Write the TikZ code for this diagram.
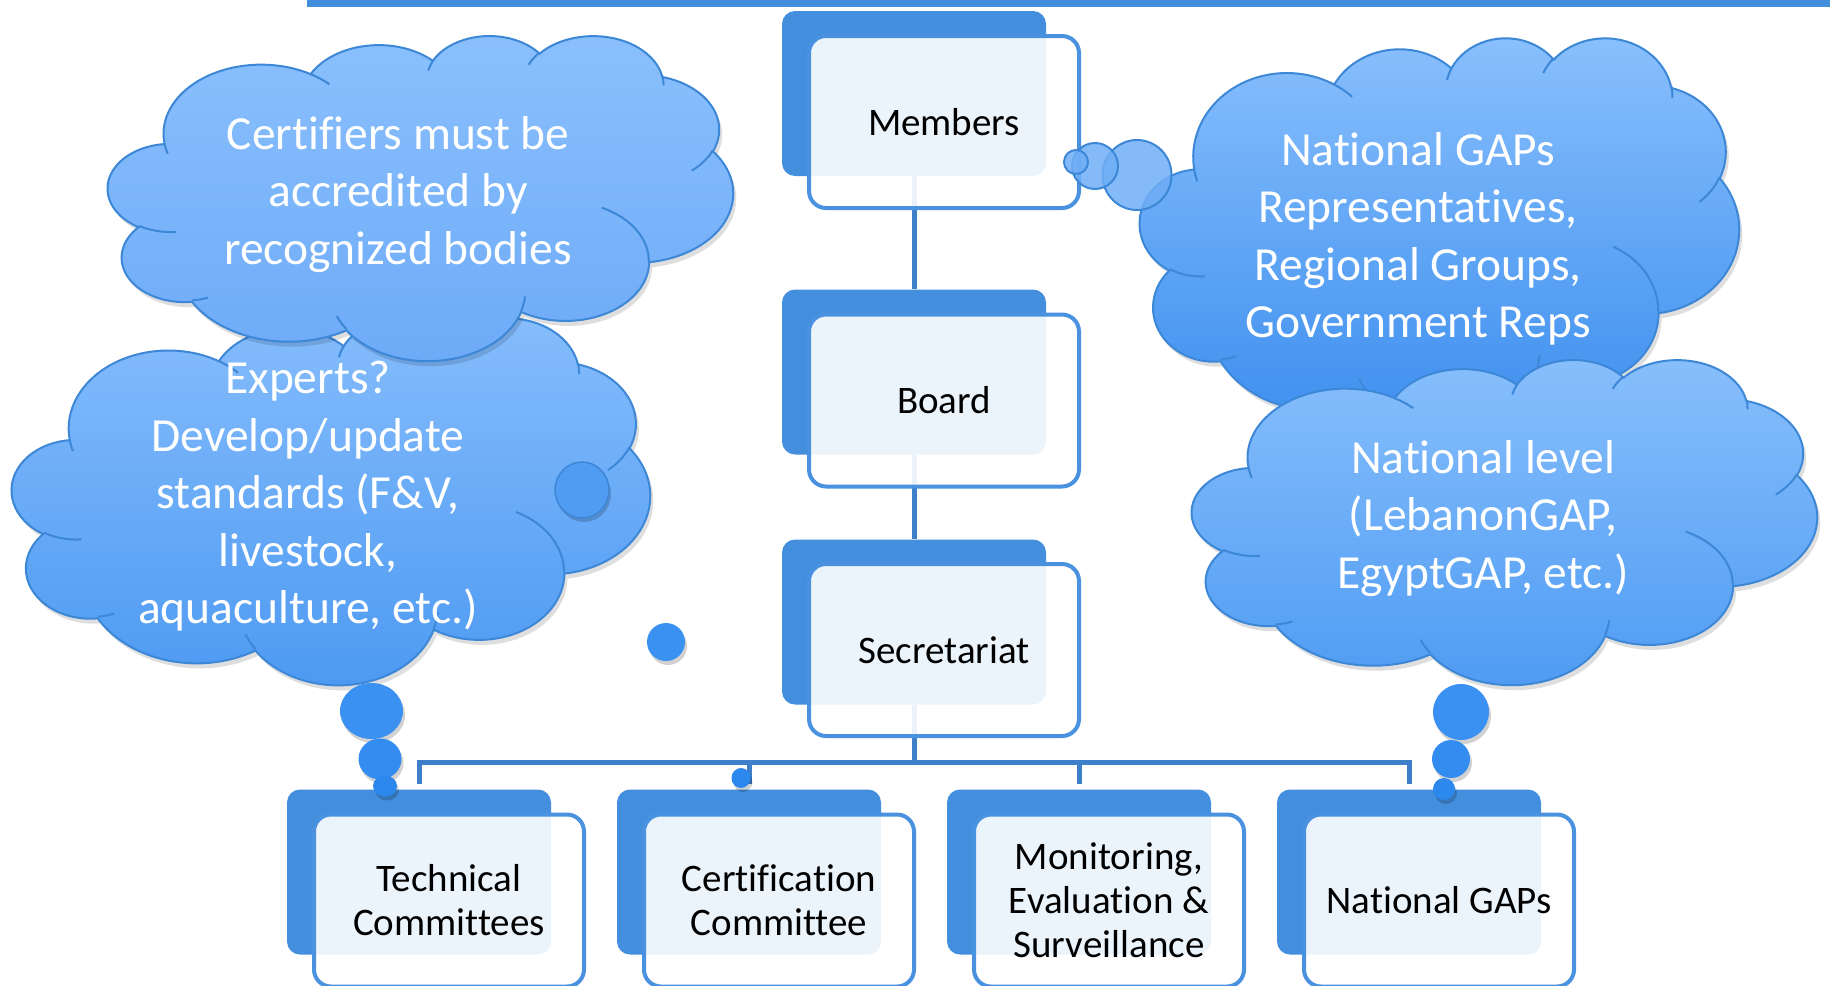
\documentclass[tikz,border=0pt]{standalone}
\usepackage{fontspec}
\setmainfont[Ligatures=NoCommon]{Carlito}
\definecolor{barblue}{HTML}{438EDB}
\definecolor{backblue}{HTML}{438FDD}
\definecolor{frontline}{HTML}{4A91E0}
\definecolor{connblue}{HTML}{3D80C9}
\definecolor{cloudline}{HTML}{3D87D7}
\definecolor{cAtop}{HTML}{8AC0FD}
\definecolor{cAbot}{HTML}{6DAAF7}
\definecolor{cBtop}{HTML}{86BDFC}
\definecolor{cBbot}{HTML}{4C99F2}
\definecolor{cCtop}{HTML}{8AC0FD}
\definecolor{cCbot}{HTML}{3A8DEE}
\definecolor{cDtop}{HTML}{88BFFC}
\definecolor{cDbot}{HTML}{4E9BF3}
\definecolor{tailA}{HTML}{3B91F1}
\definecolor{tailB}{HTML}{338CEF}
\definecolor{tailC}{HTML}{2D88EE}
\definecolor{bubblelight}{HTML}{6FAEF6}
\definecolor{innerbubble}{HTML}{4F9CF2}
\pgfdeclarelayer{bg}
\pgfsetlayers{bg,main}
\newcommand\mkarc[5]{%
  \pgfmathsetmacro\mkts{atan2((#2)*sin(#4),(#3)*cos(#4))}%
  \pgfmathsetmacro\mkte{atan2((#2)*sin((#4)+(#5)),(#3)*cos((#4)+(#5)))}%
  \pgfmathsetmacro\mkd{(\mkte)-(\mkts)}%
  \pgfmathsetmacro\mkd{(\mkd)+360*round(((#5)-(\mkd))/360)}%
  \expandafter\xdef\csname cloudarc#1\endcsname{ arc[start angle=\mkts, delta angle=\mkd, x radius=#2, y radius=#3] }%
}
\mkarc{1}{67.53}{91.90}{-190.48748}{123.78053}
\mkarc{2}{53.33}{72.67}{-144.10238}{89.94523}
\mkarc{3}{43.65}{59.45}{-145.80792}{99.72302}
\mkarc{4}{48.57}{65.95}{-130.98607}{117.24173}
\mkarc{5}{53.33}{72.73}{-78.70888}{109.02692}
\mkarc{6}{67.75}{92.20}{-46.26725}{130.26900}
\mkarc{7}{57.85}{78.67}{0.62502}{114.03333}
\mkarc{8}{67.52}{92.15}{22.45160}{115.17255}
\mkarc{9}{77.20}{105.43}{66.24263}{75.71102}
\mkarc{10}{43.60}{59.18}{-274.94208}{146.73557}
\mkarc{11}{43.45}{59.45}{-246.82850}{152.51885}
\mkarc{a}{43.45}{59.45}{86.74200}{26.42950}
\mkarc{b}{43.60}{59.18}{73.61047}{11.44747}
\mkarc{c}{67.52}{92.15}{137.62415}{14.08110}
\mkarc{d}{67.52}{92.15}{6.45327}{15.99835}
\mkarc{e}{57.85}{78.67}{-70.29235}{70.91737}
\mkarc{f}{53.33}{72.73}{30.31803}{27.75150}
\mkarc{g}{48.57}{65.95}{-13.74433}{14.85890}
\mkarc{h}{48.57}{65.95}{-149.18145}{18.19537}
\mkarc{i}{43.65}{59.45}{-163.49427}{17.68635}
\mkarc{j}{67.53}{91.90}{-66.70695}{12.31935}
\mkarc{k}{67.53}{91.90}{157.65435}{11.85817}
\xdef\cloudouter{(39.00,143.70) \csname cloudarc1\endcsname \csname cloudarc2\endcsname \csname cloudarc3\endcsname \csname cloudarc4\endcsname \csname cloudarc5\endcsname \csname cloudarc6\endcsname \csname cloudarc7\endcsname \csname cloudarc8\endcsname \csname cloudarc9\endcsname \csname cloudarc10\endcsname \csname cloudarc11\endcsname -- cycle}
\xdef\cloudinner{(46.93,261.77) \csname cloudarca\endcsname (69.28,348.99) \csname cloudarcb\endcsname (164.78,390.90) \csname cloudarcc\endcsname (288.27,347.51) \csname cloudarcd\endcsname (341.29,229.54) \csname cloudarce\endcsname (417.98,153.54) \csname cloudarcf\endcsname (383.24,54.26) \csname cloudarcg\endcsname (290.78,39.52) \csname cloudarch\endcsname (221.41,47.20) \csname cloudarci\endcsname (140.00,51.92) \csname cloudarcj\endcsname (41.27,157.89) \csname cloudarck\endcsname}
\newcommand\drawcloud[6]{%
  \pgfmathsetmacro\cwx{#3/432}\pgfmathsetmacro\cwy{#4/432}%
  \begin{scope}[shift={(#1,#2)}, x=\cwx pt, y=-\cwy pt]
    \fill[black, opacity=0.13, shift={(3pt,-5pt)}] \cloudouter;
    \path[top color=#5, bottom color=#6, draw=cloudline, line width=2pt] \cloudouter;
    \draw[cloudline, line width=2pt] \cloudinner;
  \end{scope}}
\newcommand\boxfont{\fontsize{39}{44}\selectfont}
\newcommand\cloudfont{\fontsize{47.5}{57.5}\selectfont}
\tikzset{
  backbox/.style={fill=backblue, rounded corners=13pt, minimum width=264pt, minimum height=165pt, inner sep=0pt},
  frontbox/.style={draw=frontline, line width=4pt, fill=white, fill opacity=0.9, text opacity=1, rounded corners=17pt, minimum width=270pt, minimum height=172pt, align=center, font=\boxfont, inner sep=0pt, text=black},
  conn/.style={draw=connblue, line width=5pt},
  cloudtext/.style={text=white, font=\cloudfont, align=center, inner sep=0pt},
  bshadow/.style={fill=black, opacity=0.18, shift={(2pt,-4pt)}},
  lightbubble/.style={fill=bubblelight, fill opacity=0.85, draw=cloudline, line width=2pt},
}
\begin{document}
\begin{tikzpicture}[x=1pt, y=-1pt]
\useasboundingbox (0,0) rectangle (1830,985);
% boxes
\node[backbox] (memB) at (914,93.5) {};
\node[frontbox] (mem) at (944,122) {Members};
\node[backbox] (boardB) at (914,372) {};
\node[frontbox] (board) at (944,400.5) {Board};
\node[backbox] (secB) at (914,622) {};
\node[frontbox] (sec) at (944,650) {Secretariat};
\node[backbox] (tcB) at (419,872) {};
\node[frontbox] (tc) at (449,900.5) {Technical\\Committees};
\node[backbox] (ccB) at (749,872) {};
\node[frontbox] (cc) at (779,900.5) {Certification\\Committee};
\node[backbox] (mesB) at (1079,872) {};
\node[frontbox] (mes) at (1109,900.5) {Monitoring,\\Evaluation \&\\Surveillance};
\node[backbox] (ngB) at (1409,872) {};
\node[frontbox] (ng) at (1439,900.5) {National GAPs};
\coordinate (bus) at (914,762);
\begin{pgfonlayer}{bg}
  \fill[barblue] (307,0) rectangle (1830,7);
  \draw[conn] (memB.south) -- (boardB.north);
  \draw[conn] (boardB.south) -- (secB.north);
  \draw[conn] (secB.south) -- (bus);
  \draw[conn] ([yshift=5pt]tcB.north) |- (bus) -| ([yshift=5pt]ngB.north);
  \draw[conn] ([yshift=5pt]ccB.north) -- (ccB.north |- bus);
  \draw[conn] ([yshift=5pt]mesB.north) -- (mesB.north |- bus);
\end{pgfonlayer}
% left clouds
\drawcloud{12}{317}{638}{367}{cBtop}{cBbot}
\node[cloudtext] (t2) at (308,496.5) {Experts?\\Develop/update\\standards (F\&V,\\livestock,\\aquaculture, etc.)};
\drawcloud{108}{35}{625}{325}{cAtop}{cAbot}
\node[cloudtext] (t1) at (398,194.5) {Certifiers must be\\accredited by\\recognized bodies};
% right clouds
\drawcloud{1140}{37}{599}{395}{cCtop}{cCbot}
\node[cloudtext] (t3) at (1418,239) {National GAPs\\Representatives,\\Regional Groups,\\Government Reps};
\drawcloud{1192}{359}{625}{325}{cDtop}{cDbot}
\node[cloudtext] (t4) at (1483,518.5) {National level\\(LebanonGAP,\\EgyptGAP, etc.)};
% bubbles near Members
\path[lightbubble] (1137,175) ellipse[x radius=34.5, y radius=35];
\path[lightbubble] (1095,166) circle[radius=23];
\path[lightbubble] (1076,162) circle[radius=12];
% bubble inside left cloud and loose bubbles
\fill[bshadow] (582,490) ellipse[x radius=27, y radius=28];
\path[fill=innerbubble, draw=cloudline, line width=1.5pt] (582,490) ellipse[x radius=27, y radius=28];
\fill[bshadow] (666,642) circle[radius=19];
\fill[tailA] (666,642) circle[radius=19];
\fill[bshadow] (741,778) ellipse[x radius=9.5, y radius=10];
\fill[tailC] (741,778) ellipse[x radius=9.5, y radius=10];
% tail of left cloud
\fill[bshadow] (371.5,711) ellipse[x radius=31.5, y radius=28];
\fill[tailA] (371.5,711) ellipse[x radius=31.5, y radius=28];
\fill[bshadow] (380,759) ellipse[x radius=21.5, y radius=20.5];
\fill[tailB] (380,759) ellipse[x radius=21.5, y radius=20.5];
\fill[bshadow] (385,786) ellipse[x radius=12, y radius=10.5];
\fill[tailC] (385,786) ellipse[x radius=12, y radius=10.5];
% tail of right cloud
\fill[bshadow] (1461,712) circle[radius=28];
\fill[tailA] (1461,712) circle[radius=28];
\fill[bshadow] (1451,759) circle[radius=19];
\fill[tailB] (1451,759) circle[radius=19];
\fill[bshadow] (1444,789) circle[radius=11];
\fill[tailC] (1444,789) circle[radius=11];
\end{tikzpicture}
\end{document}
